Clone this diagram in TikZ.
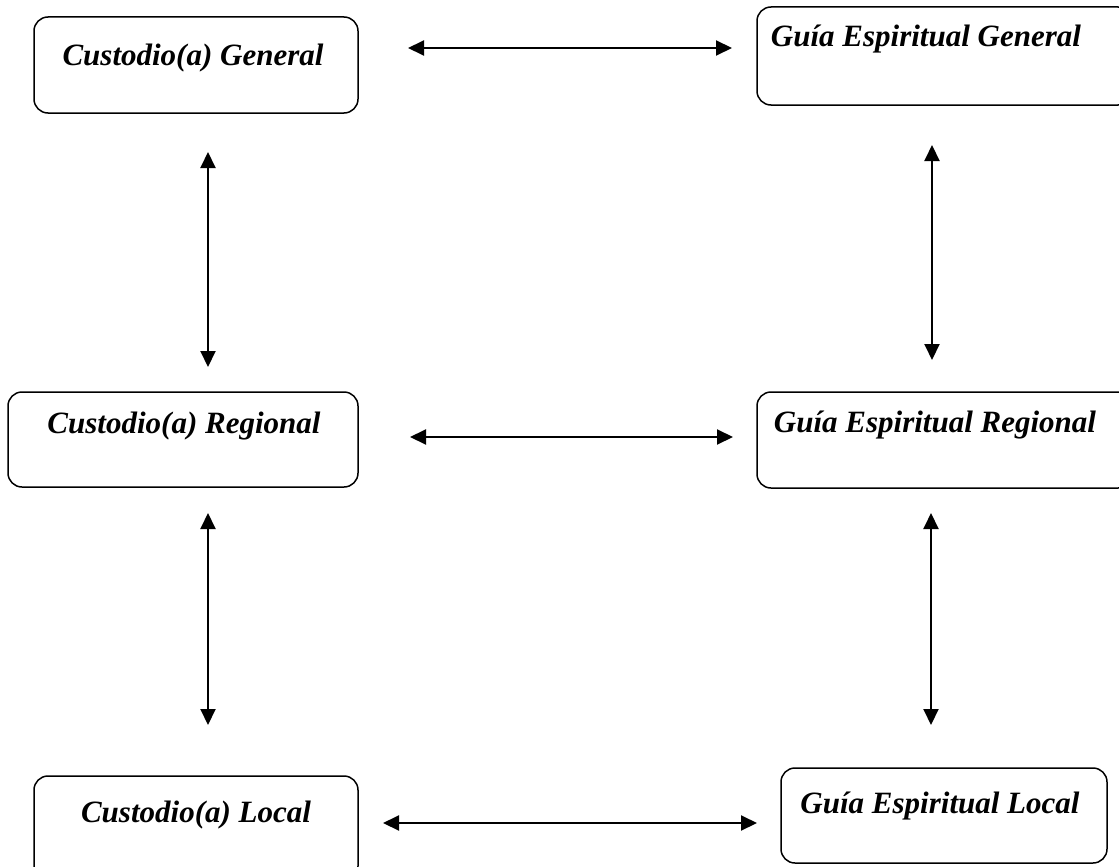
\documentclass[tikz,border=0pt]{standalone}
\usepackage{fontspec}
\setmainfont{Liberation Serif}
\usetikzlibrary{arrows.meta}

\begin{document}
\begin{tikzpicture}[x=1pt, y=-1pt,
  box/.style={draw, rounded corners=14pt, line width=1.5pt, inner sep=0pt, outer sep=0pt},
  lbl/.style={anchor=base, inner sep=0pt, font=\fontsize{31}{37}\selectfont\bfseries\itshape},
  link/.style={{Triangle[length=16pt,width=15pt]}-{Triangle[length=16pt,width=15pt]}, line width=2pt}]
\clip (0,0) rectangle (1119,867);
% cajas
\node (cg) [box, minimum width=324pt, minimum height=96pt] at (196,65) {};
\node (gg) [box, minimum width=375pt, minimum height=98pt] at (944.5,56) {};
\node (cr) [box, minimum width=350pt, minimum height=95pt] at (183,439.5) {};
\node (gr) [box, minimum width=375pt, minimum height=96pt] at (944.5,440) {};
\node (cl) [box, minimum width=324pt, minimum height=104pt] at (196,828) {};
\node (gl) [box, minimum width=326pt, minimum height=95pt] at (944,815.5) {};
% textos
\node (cgt) [lbl] at (193,66) {Custodio(a) General};
\node (ggt) [lbl] at (926,47) {Guía Espiritual General};
\node (crt) [lbl] at (184,433) {Custodio(a) Regional};
\node (grt) [lbl] at (935,432) {Guía Espiritual Regional};
\node (clt) [lbl] at (196,822) {Custodio(a) Local};
\node (glt) [lbl] at (940,813) {Guía Espiritual Local};
% flechas
\draw[link] ([xshift=50pt,yshift=17pt]cg.east) -- ([xshift=-25pt,yshift=8pt]gg.west);
\draw[link] ([xshift=52pt,yshift=2.5pt]cr.east) -- ([xshift=-24pt,yshift=3pt]gr.west);
\draw[link] ([xshift=25pt,yshift=5pt]cl.east) -- ([xshift=-24pt,yshift=-7.5pt]gl.west);
\draw[link] ([xshift=12pt,yshift=-39pt]cg.south) -- ([xshift=25pt,yshift=25pt]cr.north);
\draw[link] ([xshift=-12.5pt,yshift=-40pt]gg.south) -- ([xshift=-12.5pt,yshift=32pt]gr.north);
\draw[link] ([xshift=25pt,yshift=-26pt]cr.south) -- ([xshift=12pt,yshift=51pt]cl.north);
\draw[link] ([xshift=-13.5pt,yshift=-25pt]gr.south) -- ([xshift=-13pt,yshift=43pt]gl.north);
\end{tikzpicture}
\end{document}
